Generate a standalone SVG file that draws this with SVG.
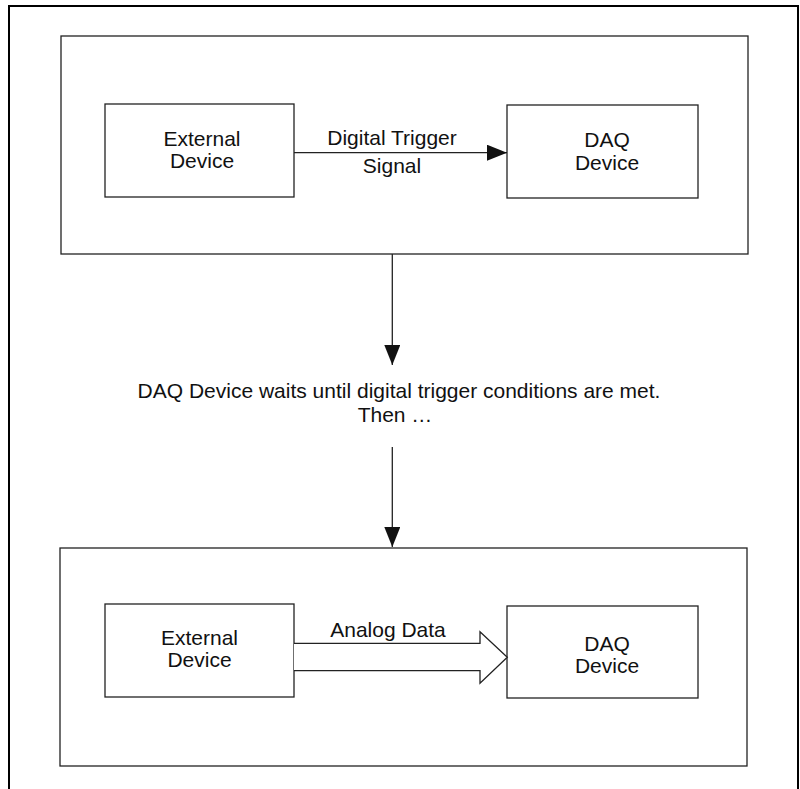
<svg xmlns="http://www.w3.org/2000/svg" width="800" height="789" viewBox="0 0 800 789">
<style>
.frame{fill:none;stroke:#000;stroke-width:2}
.box{fill:#fff;stroke:#222;stroke-width:1.3}
.line{fill:none;stroke:#222;stroke-width:1.3}
.t{font-family:"Liberation Sans",Arial,sans-serif;font-size:21px;fill:#111;text-anchor:middle}
</style>
<defs>
<marker id="ah" viewBox="0 0 20 16" refX="20" refY="8" markerWidth="20" markerHeight="16" markerUnits="userSpaceOnUse" orient="auto">
<path d="M0,0 L20,8 L0,16 Z" fill="#111"/>
</marker>
</defs>
<rect width="800" height="789" fill="#fff"/>
<path class="frame" d="M9,789 V6 H798 V789"/>
<g id="stage1">
<rect class="box" x="61" y="36" width="687" height="218"/>
</g>
<g id="stage2">
<rect class="box" x="60" y="548" width="687" height="218"/>
</g>
<g id="ext1">
<rect class="box" x="105" y="104" width="189" height="93"/>
<text class="t" x="202" y="146">External</text>
<text class="t" x="202" y="168">Device</text>
</g>
<g id="daq1">
<rect class="box" x="507" y="105" width="191" height="93"/>
<text class="t" x="607" y="147">DAQ</text>
<text class="t" x="607" y="170">Device</text>
</g>
<g id="ext2">
<rect class="box" x="105" y="604" width="189" height="93"/>
<text class="t" x="199.5" y="645">External</text>
<text class="t" x="199.5" y="667">Device</text>
</g>
<g id="daq2">
<rect class="box" x="507" y="606" width="191" height="92"/>
<text class="t" x="607" y="651">DAQ</text>
<text class="t" x="607" y="673">Device</text>
</g>
<g id="note">
<text class="t" x="399" y="398">DAQ Device waits until digital trigger conditions are met.</text>
<text class="t" x="395" y="422">Then …</text>
</g>
<g id="connectors">
<line class="line" x1="294" y1="152.7" x2="507" y2="152.7" marker-end="url(#ah)"/>
<text class="t" x="392" y="145">Digital Trigger</text>
<text class="t" x="392" y="173">Signal</text>
<line class="line" x1="392.3" y1="254" x2="392.3" y2="365" marker-end="url(#ah)"/>
<line class="line" x1="392.3" y1="447" x2="392.3" y2="547" marker-end="url(#ah)"/>
<path class="box" d="M294,643.3 H480 V631.7 L507.3,657.3 L480,683.3 V670.7 H294"/>
<text class="t" x="388" y="636.7">Analog Data</text>
</g>
</svg>
